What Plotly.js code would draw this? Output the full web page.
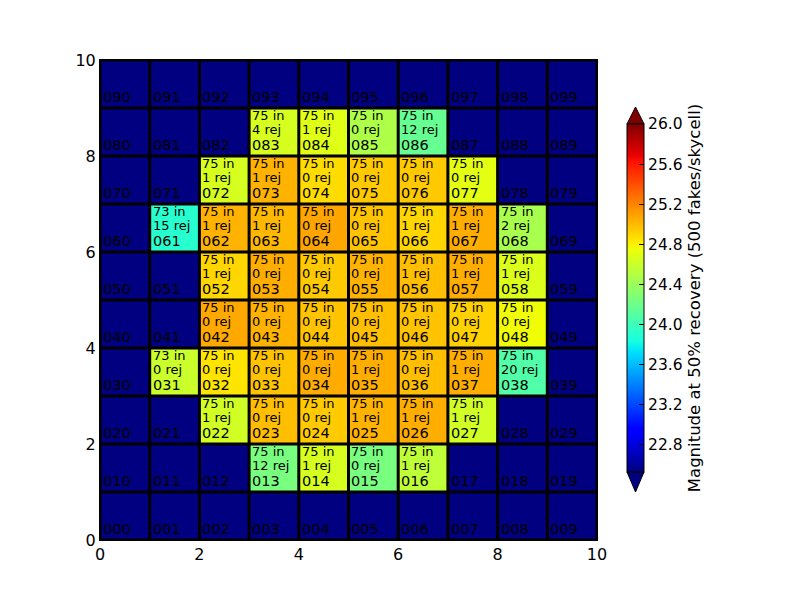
<!DOCTYPE html>
<html><head><meta charset="utf-8">
<script src="https://cdn.plot.ly/plotly-3.0.1.min.js"></script>
<style>html,body{margin:0;padding:0;background:#fff}</style>
</head><body><div id="chart" style="width:800px;height:600px"></div>
<script>
// Skycell grid: columns (x) and rows (y)
const colIndex = [0,1,2,3,4,5,6,7,8,9];
const rowIndex = [0,1,2,3,4,5,6,7,8,9];

// Magnitude at 50% recovery per skycell (row 0 at bottom); null = no data
const magnitude = [
  [null,null,null,null,null,null,null,null,null,null],
  [null,null,null,24.25,24.65,24.25,24.55,null,null,null],
  [null,null,24.63,24.99,24.94,25.03,25.05,24.63,null,null],
  [null,24.60,24.85,24.97,25.06,25.05,24.99,25.05,24.08,null],
  [null,null,25.07,25.03,24.97,24.99,24.97,24.92,24.76,null],
  [null,null,24.90,25.05,24.95,25.03,24.99,25.05,24.67,null],
  [null,23.91,25.03,25.01,25.08,24.97,24.90,25.05,24.46,null],
  [null,null,24.65,25.03,24.88,24.95,24.95,24.71,null,null],
  [null,null,null,24.65,24.69,24.48,24.17,null,null,null],
  [null,null,null,null,null,null,null,null,null,null]
];
// Number of fakes in / rejected per skycell
const nIn = [
  [null,null,null,null,null,null,null,null,null,null],
  [null,null,null,75,75,75,75,null,null,null],
  [null,null,75,75,75,75,75,75,null,null],
  [null,73,75,75,75,75,75,75,75,null],
  [null,null,75,75,75,75,75,75,75,null],
  [null,null,75,75,75,75,75,75,75,null],
  [null,73,75,75,75,75,75,75,75,null],
  [null,null,75,75,75,75,75,75,null,null],
  [null,null,null,75,75,75,75,null,null,null],
  [null,null,null,null,null,null,null,null,null,null]
];
const nRej = [
  [null,null,null,null,null,null,null,null,null,null],
  [null,null,null,12,1,0,1,null,null,null],
  [null,null,1,0,0,1,1,1,null,null],
  [null,0,0,0,0,1,0,1,20,null],
  [null,null,0,0,0,0,0,0,0,null],
  [null,null,1,0,0,0,1,1,1,null],
  [null,15,1,1,0,0,1,1,2,null],
  [null,null,1,1,0,0,0,0,null,null],
  [null,null,null,4,1,0,12,null,null,null],
  [null,null,null,null,null,null,null,null,null,null]
];
const axisTicks = [0,2,4,6,8,10];
const cbarTicks = [22.8,23.2,23.6,24.0,24.4,24.8,25.2,25.6,26.0];
const zMin = 22.53, zMax = 26.0;
const cbarTitle = 'Magnitude at 50% recovery (500 fakes/skycell)';

// matplotlib "jet"
const jet = [
  [0,'rgb(0,0,128)'],[0.11,'rgb(0,0,255)'],[0.125,'rgb(0,0,255)'],
  [0.34,'rgb(0,219,255)'],[0.35,'rgb(0,230,247)'],[0.375,'rgb(21,255,226)'],
  [0.64,'rgb(238,255,8)'],[0.65,'rgb(247,246,0)'],[0.66,'rgb(255,236,0)'],
  [0.89,'rgb(255,19,0)'],[0.91,'rgb(232,0,0)'],[1,'rgb(128,0,0)']
];

const font = 'DejaVu Sans, sans-serif';
const annotations = [];
rowIndex.forEach(r => colIndex.forEach(c => {
  const label = String(r*10 + c).padStart(3,'0');
  annotations.push({x:c+0.04, y:r+0.22, xref:'x', yref:'y', text:label, showarrow:false, borderpad:0,
    xanchor:'left', yanchor:'middle', font:{family:font, size:14.5, color:'black'}});
  if (nIn[r][c] !== null) {
    annotations.push({x:c+0.04, y:r+0.845, xref:'x', yref:'y', text:nIn[r][c]+' in', showarrow:false, borderpad:0,
      xanchor:'left', yanchor:'middle', font:{family:font, size:13, color:'black'}});
    annotations.push({x:c+0.04, y:r+0.552, xref:'x', yref:'y', text:nRej[r][c]+' rej', showarrow:false, borderpad:0,
      xanchor:'left', yanchor:'middle', font:{family:font, size:13, color:'black'}});
  }
}));

const shapes = [];
for (let i = 0; i <= 10; i++) {
  shapes.push({type:'line', xref:'x', yref:'y', x0:i, x1:i, y0:0, y1:10, line:{color:'black', width:3}, layer:'above'});
  shapes.push({type:'line', xref:'x', yref:'y', x0:0, x1:10, y0:i, y1:i, line:{color:'black', width:3}, layer:'above'});
}
// colorbar extension triangles (paper coords)
const px = v => (v-100)/497, py = v => (540-v)/480;
shapes.push({type:'path', xref:'paper', yref:'paper',
  path:`M ${px(627)},${py(124)} L ${px(635.5)},${py(107)} L ${px(644)},${py(124)} Z`,
  fillcolor:'rgb(128,0,0)', line:{color:'black', width:1}});
shapes.push({type:'path', xref:'paper', yref:'paper',
  path:`M ${px(627)},${py(472)} L ${px(635.5)},${py(492)} L ${px(644)},${py(472)} Z`,
  fillcolor:'rgb(0,0,128)', line:{color:'black', width:1}});

const trace = {
  type:'heatmap',
  x: colIndex.map(c => c+0.5),
  y: rowIndex.map(r => r+0.5),
  z: magnitude,
  zmin: zMin, zmax: zMax,
  colorscale: jet,
  hoverongaps:false,
  colorbar:{
    x:px(627), xanchor:'left', xpad:0, y:py(298), yanchor:'middle', ypad:0,
    len:348, lenmode:'pixels', thickness:17, thicknessmode:'pixels',
    outlinewidth:1, outlinecolor:'black',
    ticks:'inside', ticklen:5, tickcolor:'black', tickvals:cbarTicks, tickformat:'.1f',
    tickfont:{family:font, size:15.5, color:'black'},
    title:{text:cbarTitle, side:'right', font:{family:font, size:16.5, color:'black'}}
  }
};

const axisBase = {
  range:[0,10], tickvals:axisTicks, ticks:'inside', ticklen:6, tickcolor:'black',
  showline:true, linecolor:'black', linewidth:1, mirror:'ticks',
  showgrid:false, zeroline:false, fixedrange:true,
  tickfont:{family:font, size:16, color:'black'}
};

Plotly.newPlot('chart', [trace], {
  width:800, height:600,
  margin:{l:100, r:203, t:60, b:60},
  paper_bgcolor:'white', plot_bgcolor:'rgb(0,0,128)',
  xaxis:Object.assign({}, axisBase),
  yaxis:Object.assign({}, axisBase),
  annotations, shapes, showlegend:false,
  font:{family:font}
}, {staticPlot:true});
</script></body></html>
